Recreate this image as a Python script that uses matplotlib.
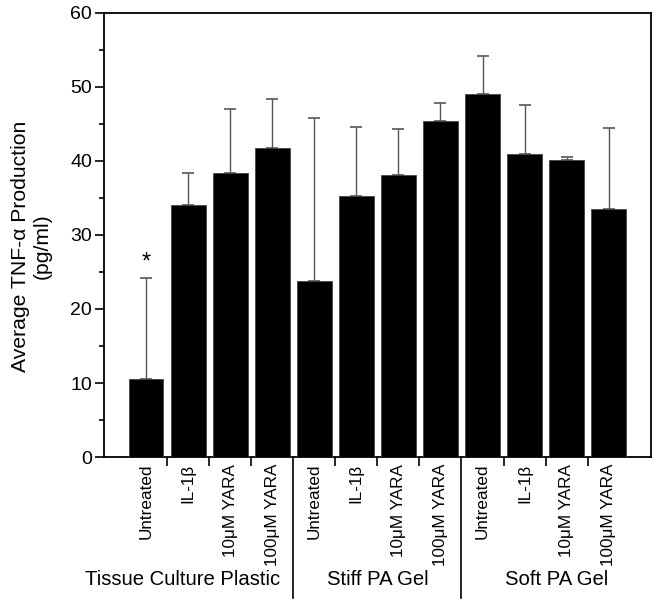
import matplotlib.pyplot as plt
import numpy as np

plt.rcParams['font.family'] = ['Liberation Sans', 'DejaVu Sans']

# data
treatments = ['Untreated', 'IL-1β', '10μM YARA', '100μM YARA'] * 3
groups = ['Tissue Culture Plastic', 'Stiff PA Gel', 'Soft PA Gel']
means = [10.6, 34.1, 38.4, 41.8,
         23.8, 35.2, 38.1, 45.4,
         49.0, 41.0, 40.1, 33.5]
err_top = [24.2, 38.4, 47.0, 48.4,
           45.8, 44.6, 44.3, 47.9,
           54.2, 47.6, 40.6, 44.4]
group_x = [1.88, 6.5, 10.76]

x = np.arange(1, len(means) + 1)
means = np.array(means)
yerr = np.array(err_top) - means

fig = plt.figure(figsize=(6.58, 6.05), dpi=100)
ax = fig.add_axes([0.158, 0.2446, 0.831, 0.734])

ax.bar(x, means, width=0.83, color='black', edgecolor='#444444', linewidth=0.6, zorder=3)
ax.errorbar(x, means, yerr=[np.zeros_like(yerr), yerr], fmt='none',
            ecolor='#555555', elinewidth=1.0, capsize=4, capthick=1.2, zorder=2)

# significance marker
ax.text(1, 26.3, '*', ha='center', va='center', fontsize=17)

ax.set_xlim(0, 13)
ax.set_ylim(0, 60)
ax.set_yticks(np.arange(0, 61, 10))
ax.set_yticks(np.arange(5, 60, 10), minor=True)
ax.tick_params(axis='y', which='major', direction='out', length=6.5, width=1.2, labelsize=14, pad=2)
ax.tick_params(axis='y', which='minor', direction='out', length=3.6, width=1.2)

ax.set_xticks(x)
ax.set_xticklabels(treatments, rotation=90, fontsize=12.3)
ax.tick_params(axis='x', which='major', length=0, pad=5)
between = [1.5, 2.5, 3.5, 5.5, 6.5, 7.5, 9.5, 10.5, 11.5]
ax.set_xticks(between, minor=True)
ax.tick_params(axis='x', which='minor', direction='out', length=6.5, width=1.2)

for s in ax.spines.values():
    s.set_linewidth(1.3)

# group separators and labels below the axis
tr = ax.get_xaxis_transform()
for xs in [4.5, 8.5]:
    ax.plot([xs, xs], [0, -0.318], transform=tr, color='black', lw=1.2, clip_on=False)
for gx, g in zip(group_x, groups):
    ax.text(gx, -0.276, g, transform=tr, ha='center', va='center', fontsize=14.6)

ax.set_ylabel('Average TNF-α Production\n(pg/ml)', fontsize=15.2)
ax.yaxis.set_label_coords(-0.095, 0.475)

fig.savefig('out.png', dpi=100)
